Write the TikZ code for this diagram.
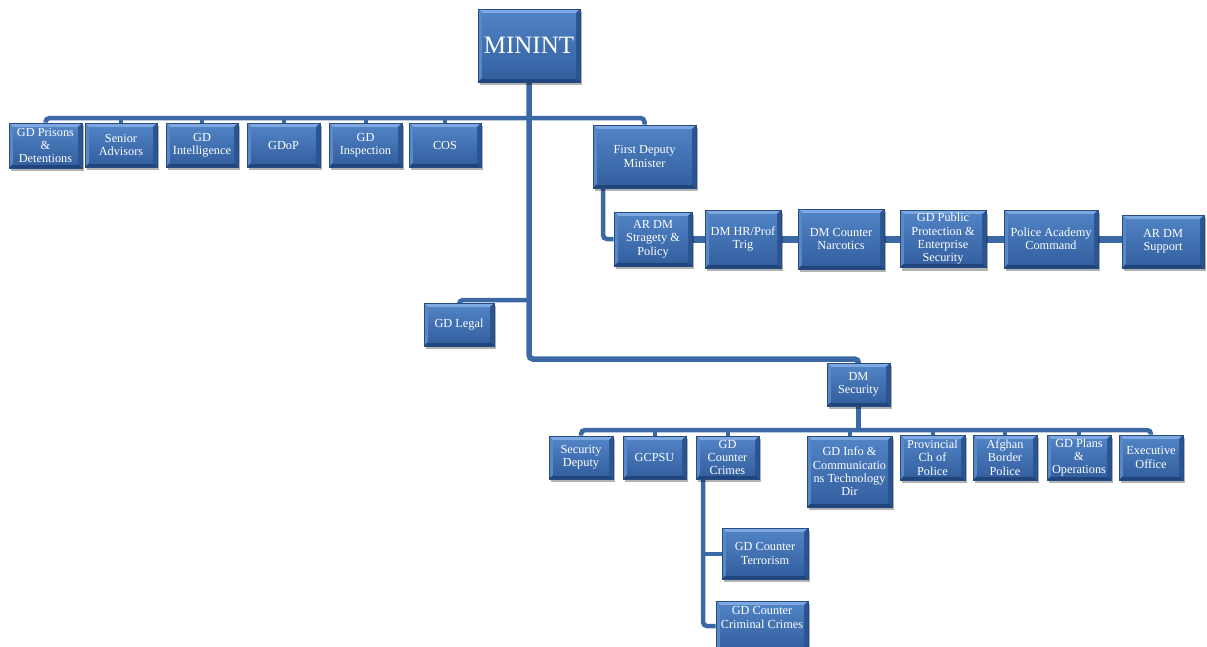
\documentclass[tikz,border=0pt]{standalone}
\usepackage{fontspec}
\setmainfont{Liberation Serif}
\usetikzlibrary{shadows}
\pgfdeclarelayer{background}
\pgfsetlayers{background,main}
\definecolor{boxface}{RGB}{62,110,176}
\definecolor{facetop}{RGB}{80,130,196}
\definecolor{facebot}{RGB}{52,96,160}
\definecolor{boxtop}{RGB}{125,168,224}
\definecolor{boxleft}{RGB}{88,136,200}
\definecolor{boxright}{RGB}{42,84,146}
\definecolor{boxbot}{RGB}{32,68,124}
\definecolor{boxedge}{RGB}{38,76,130}
\definecolor{wire}{RGB}{60,105,166}
\newcommand\bxfont{\fontsize{12.3}{13.3}\selectfont}
\tikzset{
  box/.style={draw=boxedge, line width=0.7pt, fill=boxface, text=white,
    align=center, font=\bxfont, inner sep=1pt,
    drop shadow={shadow xshift=2pt, shadow yshift=-3pt, opacity=0.3, fill=black},
    path picture={
      \path (path picture bounding box.north west) coordinate (pNW)
            (path picture bounding box.north east) coordinate (pNE)
            (path picture bounding box.south west) coordinate (pSW)
            (path picture bounding box.south east) coordinate (pSE);
      \fill[boxtop] (pNW) -- (pNE) -- ([shift={(-4pt,-4pt)}]pNE) -- ([shift={(4pt,-4pt)}]pNW) -- cycle;
      \fill[boxleft] (pNW) -- ([shift={(4pt,-4pt)}]pNW) -- ([shift={(4pt,4pt)}]pSW) -- (pSW) -- cycle;
      \fill[boxright] (pNE) -- ([shift={(-4pt,-4pt)}]pNE) -- ([shift={(-4pt,4pt)}]pSE) -- (pSE) -- cycle;
      \fill[boxbot] (pSW) -- ([shift={(4pt,4pt)}]pSW) -- ([shift={(-4pt,4pt)}]pSE) -- (pSE) -- cycle;
      \shade[top color=facetop, bottom color=facebot] ([shift={(4pt,-4pt)}]pNW) rectangle ([shift={(-4pt,4pt)}]pSE);
    }},
  wirebus/.style={draw=wire, line width=4.5pt, rounded corners=4pt},
  wirestub/.style={draw=wire, line width=4pt},
  trunk/.style={draw=wire, line width=5.5pt, rounded corners=4pt},
  chainwire/.style={draw=wire, line width=7pt, rounded corners=4pt},
}
\begin{document}
\begin{tikzpicture}[x=1pt, y=-1pt]
\useasboundingbox (0,0) rectangle (1207,646);

% top
\node[box, minimum width=102pt, minimum height=73pt, font=\fontsize{25}{28}\selectfont] (minint) at (529,45.5) {MININT};

\node[box, minimum width=73pt, minimum height=45pt] (prisons) at (45.5,145.5) {GD Prisons\\\&\\Detentions};
\node[box, minimum width=72pt, minimum height=44pt] (senior) at (121,145) {Senior\\Advisors};
\node[box, minimum width=72pt, minimum height=44pt] (intel) at (202,145) {GD\\Intelligence};
\node[box, minimum width=73pt, minimum height=44pt] (gdop) at (283.5,145) {GDoP};
\node[box, minimum width=73pt, minimum height=44pt] (insp) at (365.5,145) {GD\\Inspection};
\node[box, minimum width=72pt, minimum height=44pt] (cos) at (445,145) {COS};
\node[box, minimum width=103pt, minimum height=63pt] (fdm) at (644.5,156.5) {First Deputy\\Minister};

% first deputy chain
\node[box, minimum width=78pt, minimum height=54pt] (ardm) at (653,239) {AR DM\\Stragety \&\\Policy};
\node[box, minimum width=76pt, minimum height=58pt] (hr) at (743,239) {DM HR/Prof\\Trig};
\node[box, minimum width=86pt, minimum height=60pt] (narc) at (841,239) {DM Counter\\Narcotics};
\node[box, minimum width=86pt, minimum height=57pt] (pub) at (943,239) {GD Public\\Protection \&\\Enterprise\\Security};
\node[box, minimum width=94pt, minimum height=58pt] (pol) at (1051,239) {Police Academy\\Command};
\node[box, minimum width=82pt, minimum height=53pt] (sup) at (1163,241.5) {AR DM\\Support};

% legal
\node[box, minimum width=70pt, minimum height=43pt] (legal) at (459,324.5) {GD Legal};

% security
\node[box, minimum width=63pt, minimum height=43pt] (dmsec) at (858.5,384.5) {DM\\Security};
\node[box, minimum width=64pt, minimum height=43pt] (secdep) at (581,457.5) {Security\\Deputy};
\node[box, minimum width=63pt, minimum height=43pt] (gcpsu) at (654.5,457.5) {GCPSU};
\node[box, minimum width=63pt, minimum height=43pt] (ccrimes) at (727.5,457.5) {GD\\Counter\\Crimes};
\node[box, minimum width=85pt, minimum height=71pt] (info) at (849.5,471.5) {GD Info \&\\Communicatio\\ns Technology\\Dir};
\node[box, minimum width=65pt, minimum height=45pt] (prov) at (932.5,457.5) {Provincial\\Ch of\\Police};
\node[box, minimum width=64pt, minimum height=45pt] (afghan) at (1005,457.5) {Afghan\\Border\\Police};
\node[box, minimum width=64pt, minimum height=45pt] (plans) at (1079,457.5) {GD Plans\\\&\\Operations};
\node[box, minimum width=64pt, minimum height=45pt] (exec) at (1151,457.5) {Executive\\Office};

\node[box, minimum width=86pt, minimum height=51pt] (terr) at (765,553.5) {GD Counter\\Terrorism};
\node[box, minimum width=92pt, minimum height=50pt] (crim) at (762,626) {GD Counter\\Criminal Crimes\\ \strut};

\coordinate (topbus) at (529,118);
\coordinate (legalbus) at (529,300);
\coordinate (secbend) at (529,359);
\coordinate (secbus) at (858.5,430);
\coordinate (fdmdrop) at (603,188);
\coordinate (ccdrop) at (703,479);

\begin{pgfonlayer}{background}
  \draw[trunk] (minint.south) -- (secbend) -| (dmsec.north);
  \draw[wirebus] (prisons.north) |- (topbus) -| (fdm.north);
  \foreach \n in {senior,intel,gdop,insp,cos}
    \draw[wirestub] (\n.north) -- (\n.north |- topbus);
  \draw[wirebus] (legal.north) |- (legalbus);
  \draw[wirebus] (fdmdrop) |- (ardm.west);
  \draw[chainwire] (ardm) -- (hr) -- (narc) -- (pub) -- (pol) -- (sup.center |- pol.center);
  \draw[wirebus] (dmsec.south) -- (secbus);
  \draw[wirebus] (secdep.north) |- (secbus) -| (exec.north);
  \foreach \n in {gcpsu,ccrimes,info,prov,afghan,plans}
    \draw[wirestub] (\n.north) -- (\n.north |- secbus);
  \draw[wirebus] (ccdrop) |- (crim.west);
  \draw[wirestub] (terr.west) -- (terr.west -| ccdrop);
\end{pgfonlayer}
\end{tikzpicture}
\end{document}
